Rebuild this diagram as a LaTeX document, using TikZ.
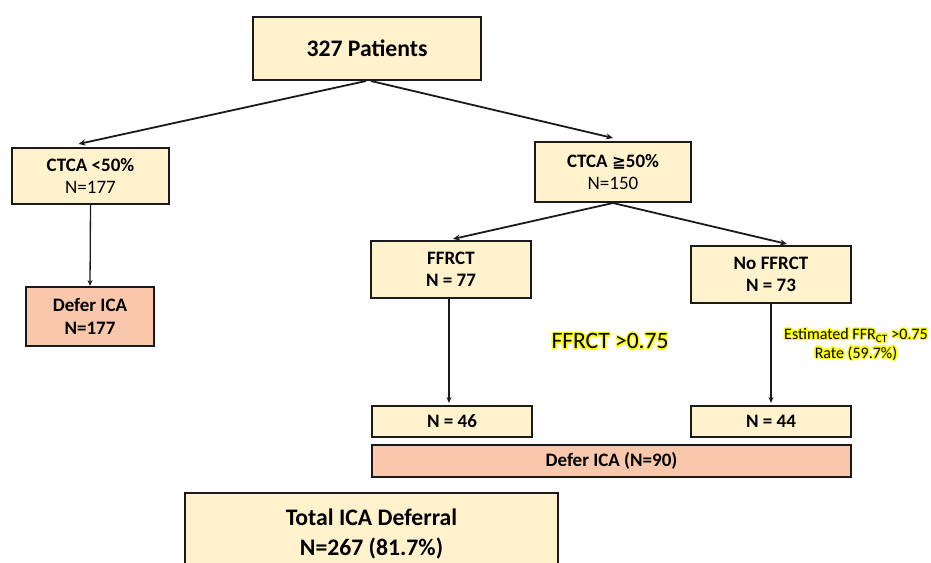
\documentclass[tikz,border=0pt]{standalone}
\usepackage{fontspec}
\setmainfont{Carlito}
\newfontfamily\dejavu{DejaVu Sans}
\usepackage[copies]{contour}
\usetikzlibrary{arrows.meta}
\definecolor{boxy}{HTML}{FFF2CC}
\definecolor{boxp}{HTML}{F9C8AC}
\definecolor{edge}{HTML}{1A1A1A}
\definecolor{glow}{HTML}{FFFF00}
\contourlength{1.4pt}
\contournumber{12}
\tikzset{
  box/.style={draw=edge, line width=2pt, fill=boxy, minimum width=#1, inner sep=0pt, align=center},
  pbox/.style={box=#1, fill=boxp},
  arr/.style={draw=edge, line width=1.8pt, -{Stealth[length=7pt,width=6pt]}},
  varr/.style={draw=edge, line width=1.3pt, -{Stealth[length=6pt,width=5pt]}},
  fa/.style={font=\fontsize{19}{22.5}\selectfont},
  fb/.style={font=\fontsize{23.7}{30}\selectfont},
}
\begin{document}
\begin{tikzpicture}[x=1pt,y=-1pt]
\useasboundingbox (0,0) rectangle (931,562);
\clip (0,0) rectangle (931,562);
\fill[white] (0,0) rectangle (931,562);
\node[box=228pt, minimum height=63pt, fb] (top) at (367,48.5) {\bfseries 327 Patients};
\node[box=157pt, minimum height=56pt, fa] (lt) at (90.5,176) {\bfseries CTCA <50\%\\N=177};
\node[box=156pt, minimum height=60pt, fa] (rt) at (613,172) {\bfseries CTCA {\dejavu\bfseries\fontsize{16.5}{22}\selectfont ≧}50\%\\N=150};
\node[pbox=128pt, minimum height=59pt, fa] (dl) at (90,316.5) {\bfseries Defer ICA\\\bfseries N=177};
\node[box=160pt, minimum height=57pt, fa] (ff) at (451,269.5) {\bfseries FFRCT\\\bfseries N = 77};
\node[box=160pt, minimum height=57pt, fa] (nf) at (771,274.5) {\bfseries No FFRCT\\\bfseries N = 73};
\node[box=160pt, minimum height=31pt, fa] (n46) at (452,421.5) {\bfseries N = 46};
\node[box=160pt, minimum height=31pt, fa] (n44) at (771,421.5) {\bfseries N = 44};
\node[pbox=479pt, minimum height=32pt, fa] (d90) at (611.5,461) {\bfseries Defer ICA (N=90)};
\node[box=373pt, minimum height=83pt, fb, anchor=north] (tot) at (371.5,492) {};
\node[fb, align=center] (totl) at (371.5,534) {\bfseries Total ICA Deferral\\\bfseries N=267 (81.7\%)};
\node[font=\fontsize{23.5}{26}\selectfont] (thr) at (610,342) {\contour{glow}{FFRCT >0.75}};
\node[font=\fontsize{16}{18.5}\selectfont, align=center] (est) at (856,345) {\contour{glow}{Estimated FFR\textsubscript{CT} >0.75}\\\contour{glow}{Rate (59.7\%)}};
\draw[arr] ([xshift=-1pt]top.south) -- ([xshift=-12pt,yshift=3pt]lt.north);
\draw[arr] ([xshift=4pt]top.south) -- ([yshift=3pt]rt.north);
\draw[arr] (rt.south) -- ([xshift=2pt,yshift=1pt]ff.north);
\draw[arr] (rt.south) -- ([xshift=16pt,yshift=1pt]nf.north);
\draw[varr] (lt.south) -- (dl.north);
\draw[varr] ([xshift=-2pt]ff.south) -- ([xshift=-3pt,yshift=2pt]n46.north);
\draw[varr] (nf.south) -- ([yshift=2pt]n44.north);
\end{tikzpicture}
\end{document}
